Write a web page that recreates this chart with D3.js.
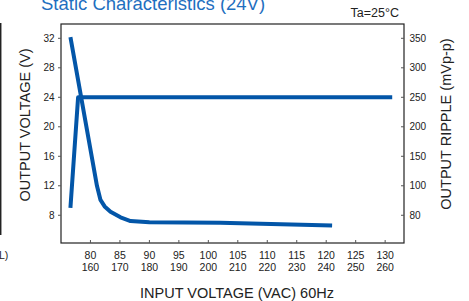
<!DOCTYPE html>
<html>
<head>
<meta charset="utf-8">
<script src="https://cdn.jsdelivr.net/npm/d3@7"></script>
<style>
  body { margin: 0; background: #fff; }
  text { font-family: "Liberation Sans", Arial, sans-serif; fill: #222; }
</style>
</head>
<body>
<script>
// chart values
var inputVac60 = [80, 85, 90, 95, 100, 105, 110, 115, 120, 125, 130];
var inputVac2 = [160, 170, 180, 190, 200, 210, 220, 230, 240, 250, 260];
var voltTicks = [8, 12, 16, 20, 24, 28, 32];
var rippleTicks = [80, 100, 150, 200, 250, 300, 350];

var voltIn = [76.6, 77.9, 131.2];
var voltOut = [9, 24, 24];

var rippleIn = [76.6, 81.1, 81.7, 82.4, 83.4, 85.1, 86.8, 90, 102, 121];
var rippleOut = [352, 100, 90.4, 86, 82.4, 78.6, 76.1, 75.3, 75, 73];

window.onload = drawChart();
function drawChart(){

  var width = 469,
      height = 301;

  var svg = d3.select("body")
      .append("svg")
      .attr("width", width)
      .attr("height", height);

  var left = 61, right = 404, top = 24, bottom = 243;

  var x = d3.scaleLinear().domain([75, 133.2]).range([left, right]);
  var y = d3.scaleLinear().domain([4.24, 33.94]).range([bottom, top]);
  // ripple axis labels line up with the voltage ticks, so it is piecewise
  var yR = d3.scaleLinear().domain(rippleTicks).range(voltTicks.map(y));

  // frame
  svg.append("rect")
      .attr("x", left).attr("y", top)
      .attr("width", right - left).attr("height", bottom - top)
      .attr("fill", "none").attr("stroke", "#222").attr("stroke-width", 1.2);

  // left axis
  var gl = svg.append("g");
  gl.selectAll("line").data(voltTicks).enter().append("line")
      .attr("x1", left - 3).attr("x2", left)
      .attr("y1", function(d){ return y(d); }).attr("y2", function(d){ return y(d); })
      .attr("stroke", "#555");
  gl.selectAll("text").data(voltTicks).enter().append("text")
      .attr("x", 54.5).attr("y", function(d){ return y(d) + 3.6; })
      .attr("text-anchor", "end").attr("font-size", 10)
      .text(function(d){ return d; });

  // right axis
  var gr = svg.append("g");
  gr.selectAll("line").data(rippleTicks).enter().append("line")
      .attr("x1", right - 3).attr("x2", right)
      .attr("y1", function(d){ return yR(d); }).attr("y2", function(d){ return yR(d); })
      .attr("stroke", "#555");
  gr.selectAll("text").data(rippleTicks).enter().append("text")
      .attr("x", 409.5).attr("y", function(d){ return yR(d) + 3.6; })
      .attr("font-size", 10)
      .text(function(d){ return d; });

  // bottom axis, two rows of labels
  var gb = svg.append("g");
  gb.selectAll("line").data(inputVac60).enter().append("line")
      .attr("x1", function(d){ return x(d); }).attr("x2", function(d){ return x(d); })
      .attr("y1", bottom - 3).attr("y2", bottom)
      .attr("stroke", "#555");
  gb.selectAll("text.r1").data(inputVac60).enter().append("text")
      .attr("class", "r1")
      .attr("x", function(d){ return x(d); }).attr("y", 259)
      .attr("text-anchor", "middle").attr("font-size", 10.5)
      .text(function(d){ return d; });
  gb.selectAll("text.r2").data(inputVac2).enter().append("text")
      .attr("class", "r2")
      .attr("x", function(d, i){ return x(inputVac60[i]); }).attr("y", 271)
      .attr("text-anchor", "middle").attr("font-size", 10.5)
      .text(function(d){ return d; });

  // axis titles
  svg.append("text")
      .attr("transform", "translate(30,125) rotate(-90)")
      .attr("text-anchor", "middle").attr("font-size", 14.5)
      .text("OUTPUT VOLTAGE (V)");
  svg.append("text")
      .attr("transform", "translate(451,124) rotate(-90)")
      .attr("text-anchor", "middle").attr("font-size", 14.5)
      .text("OUTPUT RIPPLE (mVp-p)");
  svg.append("text")
      .attr("x", 237).attr("y", 298)
      .attr("text-anchor", "middle").attr("font-size", 14.5)
      .text("INPUT VOLTAGE (VAC) 60Hz");

  // title and condition
  svg.append("text")
      .attr("x", 41).attr("y", 10)
      .attr("font-size", 18.5)
      .style("fill", "#1f6fc0")
      .text("Static Characteristics (24V)");
  svg.append("text")
      .attr("x", 399).attr("y", 17)
      .attr("text-anchor", "end").attr("font-size", 12.5)
      .text("Ta=25°C");

  // leftover edge of the neighbouring chart
  svg.append("line")
      .attr("x1", 0.7).attr("x2", 0.7).attr("y1", 23).attr("y2", 235)
      .attr("stroke", "#222").attr("stroke-width", 1.5);
  svg.append("text")
      .attr("x", -1).attr("y", 259)
      .attr("font-size", 10.5)
      .text("L)");

  // data lines
  var lineV = d3.line()
      .x(function(d, i){ return x(voltIn[i]); })
      .y(function(d){ return y(d); });
  var lineR = d3.line()
      .x(function(d, i){ return x(rippleIn[i]); })
      .y(function(d){ return yR(d); });

  svg.append("path")
      .datum(voltOut)
      .attr("d", lineV)
      .attr("fill", "none").attr("stroke", "#0356a8").attr("stroke-width", 4)
      .attr("stroke-linejoin", "round");
  svg.append("path")
      .datum(rippleOut)
      .attr("d", lineR)
      .attr("fill", "none").attr("stroke", "#0356a8").attr("stroke-width", 4)
      .attr("stroke-linejoin", "round");
}
</script>
</body>
</html>
